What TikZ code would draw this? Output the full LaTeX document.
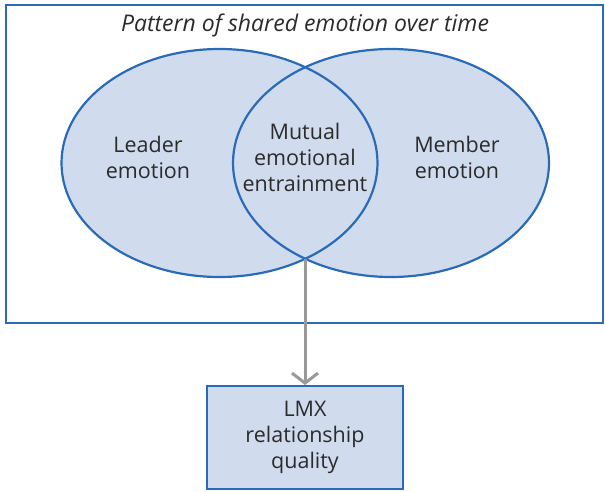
\documentclass[tikz,border=0pt]{standalone}
\usepackage{fontspec}
\setmainfont{Open Sans}
\usetikzlibrary{shapes.geometric,arrows.meta}
\definecolor{vennfill}{HTML}{D0DCEE}
\definecolor{vennline}{HTML}{2A6BB8}
\definecolor{arrowgray}{HTML}{999999}
\definecolor{textgray}{HTML}{2B2B2B}
\begin{document}
\begin{tikzpicture}[x=1pt,y=-1pt,
  venn/.style={ellipse, minimum width=316pt, minimum height=228pt, inner sep=0pt},
  label/.style={align=center, font=\fontsize{21.5}{26}\selectfont, text=textgray},
  outcome/.style={draw=vennline, line width=2pt, fill=vennfill, minimum width=196pt, minimum height=103pt, inner sep=0pt}]
  \useasboundingbox (0,0) rectangle (605,491);
  % frame around the shared-emotion pattern
  \node[draw=vennline, line width=2pt, minimum width=597pt, minimum height=318pt, inner sep=0pt] (frame) at (304.5,164) {};
  \node[align=center, text=textgray, font=\itshape\fontsize{23}{26}\selectfont] (title) at (305,25) {Pattern of shared emotion over time};
  % the two overlapping ellipses: fill first, then outlines
  \node[venn, fill=vennfill] (leader) at (219.5,163) {};
  \node[venn, fill=vennfill] (member) at (391,163) {};
  \node[venn, draw=vennline, line width=2.2pt] at (leader.center) {};
  \node[venn, draw=vennline, line width=2.2pt] at (member.center) {};
  \node[label] (leadertext) at (148,157) {Leader\\emotion};
  \node[label] (mutualtext) at (305,157) {Mutual\\emotional\\entrainment};
  \node[label] (membertext) at (457,157) {Member\\emotion};
  \coordinate (cross) at (305,259);
  % outcome box
  \node[outcome, label] (lmx) at (305,437.5) {LMX\\relationship\\quality};
  \draw[arrowgray, line width=3pt, -{Straight Barb[length=10pt,width=26pt]}] (cross) -- (lmx.north);
\end{tikzpicture}
\end{document}
